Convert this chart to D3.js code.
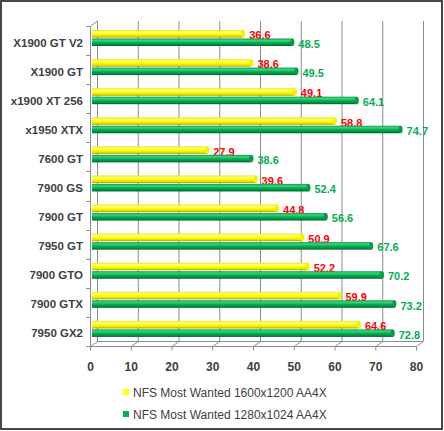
<!DOCTYPE html>
<html lang="en">
	<head>
		<meta charset="UTF-8">
		<title>NFS Most Wanted</title>
		<script src="https://cdnjs.cloudflare.com/ajax/libs/d3/7.8.5/d3.min.js"></script>
		<style>
			body { margin: 0; background: #fff; }
			text { font-family: "Liberation Sans", Arial, sans-serif; }
		</style>
		<script>
var categories = ["X1900 GT V2", "X1900 GT", "x1900 XT 256", "x1950 XTX", "7600 GT", "7900 GS",
	"7900 GT", "7950 GT", "7900 GTO", "7900 GTX", "7950 GX2"];
var hiRes = [36.6, 38.6, 49.1, 58.8, 27.9, 39.6, 44.8, 50.9, 52.2, 59.9, 64.6];
var loRes = [48.5, 49.5, 64.1, 74.7, 38.6, 52.4, 56.6, 67.6, 70.2, 73.2, 72.8];
var seriesNames = ["NFS Most Wanted 1600x1200 AA4X", "NFS Most Wanted 1280x1024 AA4X"];
var xTicks = [0, 10, 20, 30, 40, 50, 60, 70, 80];

function makeChart() {
	var svg = d3.select("svg");
	var dx = 7, dy = -5;   // depth of the 3d box
	var top = 26, bottom = 346;

	var scX = d3.scaleLinear().domain([0, 80]).range([90, 416]);
	// bars sit half way into the box
	var scBar = scX.copy().range([92, 422.5]);
	var scY = d3.scaleBand().domain(categories).range([top, bottom]);

	// frame
	svg.append("rect")
		.attr("x", 1).attr("y", 1).attr("width", 441).attr("height", 428)
		.attr("fill", "#fff").attr("stroke", "#333").attr("stroke-width", 1.8);

	var grid = svg.append("g").attr("stroke", "#8c8c8c").attr("stroke-width", 1).attr("fill", "none");

	// back wall gridlines
	grid.selectAll("line.g")
		.data(xTicks)
		.enter()
		.append("line")
		.attr("x1", d => scX(d) + dx + 0.5).attr("x2", d => scX(d) + dx + 0.5)
		.attr("y1", top + dy).attr("y2", bottom + dy);

	// floor
	grid.append("path")
		.attr("d", "M" + (scX(0) + dx) + "," + (bottom + dy + 0.5) + "H" + (scX(80) + dx));
	grid.selectAll("line.f")
		.data(xTicks)
		.enter()
		.append("line")
		.attr("x1", d => scX(d) + 0.5).attr("y1", bottom + 0.5)
		.attr("x2", d => scX(d) + dx + 0.5).attr("y2", bottom + dy + 0.5);

	// left wall
	grid.append("path")
		.attr("d", "M" + (scX(0) + 0.5) + "," + top + "L" + (scX(0) + dx + 0.5) + "," + (top + dy));
	grid.append("line")
		.attr("x1", scX(0) + 0.5).attr("x2", scX(0) + 0.5)
		.attr("y1", top).attr("y2", bottom + 0.5);
	grid.selectAll("line.c")
		.data(d3.range(categories.length + 1))
		.enter()
		.append("line")
		.attr("x1", scX(0) - 4).attr("x2", scX(0) + 0.5)
		.attr("y1", i => Math.round(top + i * scY.step()) + 0.5)
		.attr("y2", i => Math.round(top + i * scY.step()) + 0.5);

	// x axis
	var axis = svg.append("g")
		.attr("transform", "translate(0," + (bottom + 0.5) + ")")
		.call(d3.axisBottom(scX).tickValues(xTicks).tickSize(4).tickPadding(12));
	axis.select(".domain").attr("stroke", "#8c8c8c").attr("d", "M" + scX(0) + ",0H" + scX(80));
	axis.selectAll(".tick line").attr("stroke", "#8c8c8c");
	axis.selectAll(".tick text")
		.attr("fill", "#404040")
		.attr("font-size", "12px")
		.attr("font-weight", "bold")
		.attr("font-family", "Liberation Sans, Arial, sans-serif");

	// category labels
	svg.append("g")
		.selectAll("text")
		.data(categories)
		.enter()
		.append("text")
		.attr("x", 83)
		.attr("y", d => scY(d) + scY.bandwidth() / 2 + 6)
		.attr("text-anchor", "end")
		.attr("font-size", "11.5px")
		.attr("font-weight", "bold")
		.attr("fill", "#404040")
		.text(d => d);

	// gradients
	var defs = svg.append("defs");
	function grad(id, stops) {
		var g = defs.append("linearGradient").attr("id", id)
			.attr("x1", 0).attr("y1", 0).attr("x2", 0).attr("y2", 1);
		stops.forEach(s => g.append("stop").attr("offset", s[0]).attr("stop-color", s[1]));
	}
	grad("gy", [[0, "#e8e800"], [0.25, "#ffff80"], [0.55, "#ffff00"], [0.85, "#e0d800"], [1, "#9c9400"]]);
	grad("gg", [[0, "#0a9a48"], [0.25, "#3fd27f"], [0.55, "#00b050"], [0.85, "#00883c"], [1, "#005a28"]]);

	var series = [
		{vals: hiRes, off: 4, fill: "url(#gy)", cap: "#f2f200", text: "#ff0000"},
		{vals: loRes, off: 12.5, fill: "url(#gg)", cap: "#059c47", text: "#00b050"}
	];
	var h = 7.5;

	series.forEach((s, k) => {
		var g = svg.append("g").attr("id", "s" + k);
		g.selectAll("rect")
			.data(categories)
			.enter()
			.append("rect")
			.attr("x", scBar(0))
			.attr("y", d => scY(d) + s.off)
			.attr("width", (d, i) => scBar(s.vals[i]) - scBar(0))
			.attr("height", h)
			.attr("fill", s.fill);
		g.selectAll("ellipse")
			.data(categories)
			.enter()
			.append("ellipse")
			.attr("cx", (d, i) => scBar(s.vals[i]))
			.attr("cy", d => scY(d) + s.off + h / 2)
			.attr("rx", 2)
			.attr("ry", h / 2)
			.attr("fill", s.cap);
		g.selectAll("text")
			.data(categories)
			.enter()
			.append("text")
			.attr("x", (d, i) => scBar(s.vals[i]) + 6)
			.attr("y", d => scY(d) + s.off + h / 2 + 5.5)
			.attr("font-size", "11px")
			.attr("font-weight", "bold")
			.attr("fill", s.text)
			.text((d, i) => s.vals[i].toFixed(1));
	});

	// legend
	var leg = svg.append("g")
		.selectAll("g")
		.data(seriesNames)
		.enter()
		.append("g")
		.attr("transform", (d, i) => "translate(123," + (389 + i * 22) + ")");
	leg.append("rect")
		.attr("width", 6).attr("height", 6)
		.attr("fill", (d, i) => i ? "#00b050" : "#ffff00");
	leg.append("text")
		.attr("x", 10).attr("y", 8)
		.attr("font-size", "12px")
		.attr("fill", "#404040")
		.text(d => d);
}
		</script>
	</head>
	<body onload="makeChart()">
		<svg width="444" height="431"></svg>
	</body>
</html>
